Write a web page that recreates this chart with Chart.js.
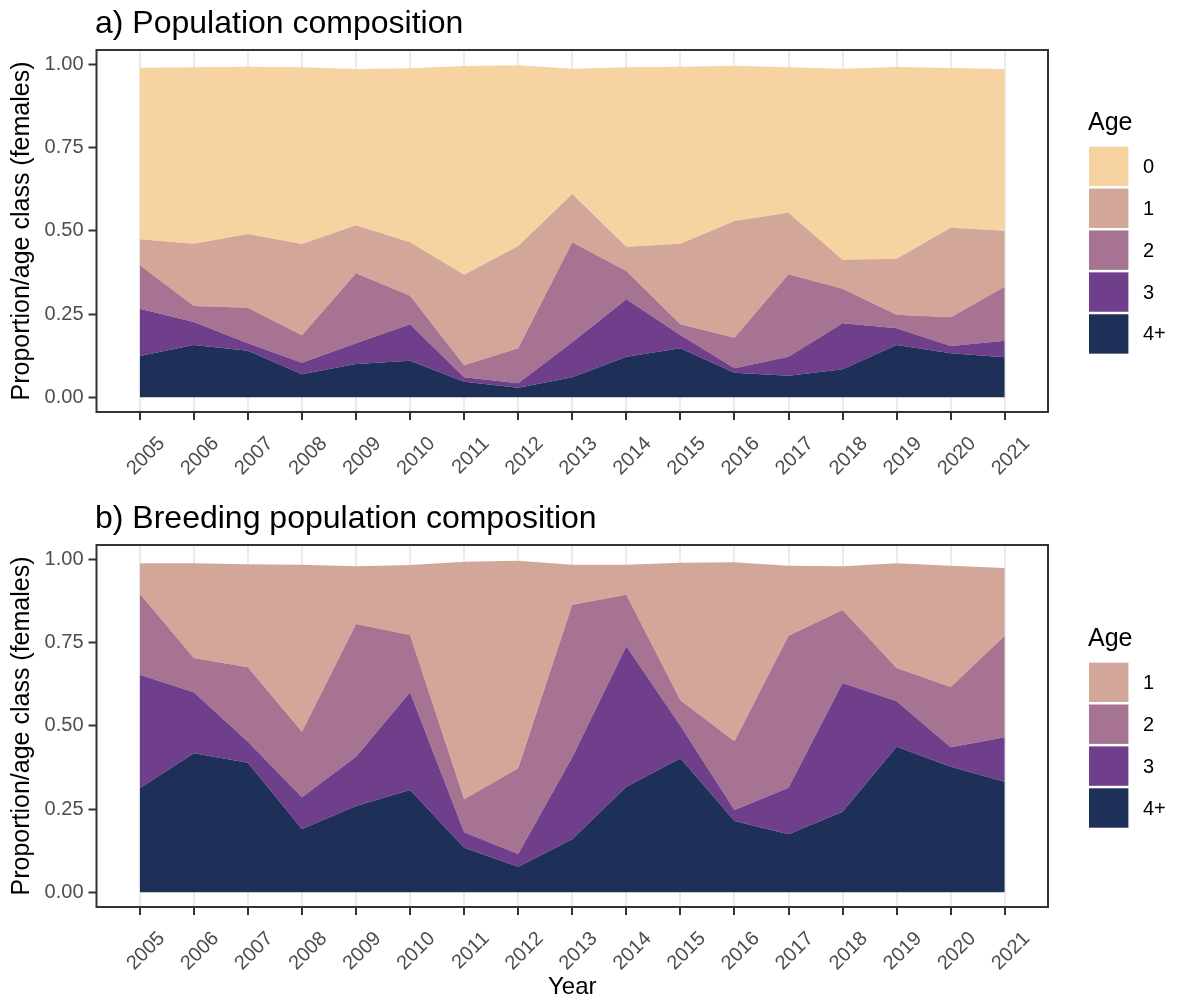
<!DOCTYPE html>
<html>
<head>
<meta charset="utf-8">
<script src="https://cdn.jsdelivr.net/npm/chart.js@4/dist/chart.umd.min.js"></script>
<style>
  html, body { margin: 0; padding: 0; background: #ffffff; }
  #wrap { position: relative; width: 1179px; height: 1005px; }
  .panel { position: absolute; left: 0; width: 1179px; }
  canvas { display: block; }
</style>
</head>
<body>
<div id="wrap">
  <div class="panel" style="top:0;height:495px"><canvas id="popChart" width="1179" height="495"></canvas></div>
  <div class="panel" style="top:495px;height:510px"><canvas id="breedChart" width="1179" height="510"></canvas></div>
</div>
<script>
// Survey years and axis ticks
const years = [2005, 2006, 2007, 2008, 2009, 2010, 2011, 2012, 2013, 2014, 2015, 2016, 2017, 2018, 2019, 2020, 2021];
const yTicks = [0, 0.25, 0.5, 0.75, 1];

// a) Whole female population: proportion in each age class
const popAge4plus = [0.124, 0.157, 0.140, 0.069, 0.100, 0.110, 0.047, 0.029, 0.060, 0.122, 0.147, 0.074, 0.065, 0.084, 0.157, 0.132, 0.120];
const popAge3     = [0.142, 0.069, 0.022, 0.035, 0.062, 0.109, 0.013, 0.013, 0.105, 0.172, 0.040, 0.013, 0.057, 0.138, 0.050, 0.022, 0.050];
const popAge2     = [0.131, 0.048, 0.107, 0.082, 0.210, 0.086, 0.036, 0.105, 0.300, 0.085, 0.032, 0.092, 0.247, 0.104, 0.041, 0.086, 0.162];
const popAge1     = [0.077, 0.187, 0.221, 0.274, 0.144, 0.160, 0.272, 0.307, 0.145, 0.073, 0.242, 0.350, 0.185, 0.087, 0.168, 0.269, 0.168];
const popAge0     = [0.515, 0.529, 0.502, 0.530, 0.469, 0.522, 0.626, 0.542, 0.376, 0.538, 0.531, 0.466, 0.436, 0.573, 0.575, 0.479, 0.485];

// b) Breeding females: proportion in each age class
const brdAge4plus = [0.312, 0.417, 0.389, 0.190, 0.259, 0.307, 0.134, 0.077, 0.159, 0.317, 0.402, 0.214, 0.174, 0.242, 0.437, 0.377, 0.332];
const brdAge3     = [0.341, 0.183, 0.063, 0.095, 0.148, 0.293, 0.046, 0.038, 0.246, 0.421, 0.098, 0.033, 0.140, 0.386, 0.136, 0.058, 0.133];
const brdAge2     = [0.243, 0.103, 0.223, 0.197, 0.398, 0.172, 0.099, 0.257, 0.458, 0.155, 0.076, 0.206, 0.456, 0.219, 0.100, 0.181, 0.305];
const brdAge1     = [0.091, 0.284, 0.309, 0.501, 0.173, 0.210, 0.713, 0.623, 0.120, 0.090, 0.413, 0.537, 0.210, 0.131, 0.314, 0.364, 0.203];

// Age-class palette
const ageColors = { '0': '#F7D3A1', '1': '#D2A79A', '2': '#A67492', '3': '#703F8B', '4+': '#1F3058' };

const FONT = "'Liberation Sans', Arial, Helvetica, sans-serif";
const AREA = { left: 96.5, right: 1048, top: 50, bottom: 412 };

// Full panel border drawn over the filled areas
const panelFrame = {
  id: 'panelFrame',
  afterDatasetsDraw(chart) {
    const { ctx, chartArea: a } = chart;
    ctx.save();
    ctx.strokeStyle = '#333333';
    ctx.lineWidth = 2;
    ctx.strokeRect(a.left, a.top, a.right - a.left, a.bottom - a.top);
    ctx.restore();
  }
};

// Panel heading above the plot, left aligned with the frame
const panelHeading = {
  id: 'panelHeading',
  afterDraw(chart, args, opts) {
    const { ctx } = chart;
    ctx.save();
    ctx.font = '32px ' + FONT;
    ctx.fillStyle = '#000000';
    ctx.textAlign = 'left';
    ctx.textBaseline = 'alphabetic';
    ctx.fillText(opts.text, 95, 33);
    ctx.restore();
  }
};

// Vertical key with square swatches, oldest class at the bottom
const ageKey = {
  id: 'ageKey',
  afterDraw(chart) {
    const { ctx, chartArea: a } = chart;
    const items = chart.data.datasets.slice().reverse();
    const pitch = 41.9, box = 39.4, capH = 19, gap = 16.7;
    const totalH = capH + gap + items.length * pitch - (pitch - box);
    const top = (a.top + a.bottom) / 2 + 1.3 - totalH / 2;
    const base = top + capH;
    ctx.save();
    ctx.font = '25px ' + FONT;
    ctx.fillStyle = '#000000';
    ctx.textAlign = 'left';
    ctx.textBaseline = 'alphabetic';
    ctx.fillText('Age', 1088, base);
    ctx.font = '20px ' + FONT;
    ctx.textBaseline = 'middle';
    items.forEach((ds, i) => {
      const y = base + gap + i * pitch;
      ctx.fillStyle = ds.backgroundColor;
      ctx.fillRect(1089, y, box, box);
      ctx.fillStyle = '#000000';
      ctx.fillText(ds.label, 1143, y + box / 2 + 1);
    });
    ctx.restore();
  }
};

function makeChart(canvasId, canvasH, heading, series, showYear) {
  const datasets = series.map((s, idx) => ({
    label: s.label,
    data: years.map((yr, i) => ({ x: yr, y: s.values[i] })),
    backgroundColor: ageColors[s.label],
    borderColor: ageColors[s.label],
    borderWidth: 0,
    pointRadius: 0,
    pointHoverRadius: 0,
    tension: 0,
    fill: idx === 0 ? 'origin' : '-1'
  }));

  return new Chart(document.getElementById(canvasId), {
    type: 'line',
    data: { datasets },
    plugins: [panelFrame, panelHeading, ageKey],
    options: {
      responsive: false,
      animation: false,
      events: [],
      layout: { padding: { left: 0, right: 1179 - AREA.right, top: AREA.top, bottom: 0 } },
      plugins: {
        legend: { display: false },
        tooltip: { enabled: false },
        panelHeading: { text: heading }
      },
      scales: {
        x: {
          type: 'linear',
          min: 2004.2,
          max: 2021.8,
          afterBuildTicks: sc => { sc.ticks = years.map(v => ({ value: v })); },
          afterFit: sc => { sc.height = canvasH - AREA.bottom; },
          grid: { color: '#EBEBEB', lineWidth: 2, drawTicks: true, tickColor: '#333333', tickWidth: 2, tickLength: 8 },
          border: { display: false },
          ticks: {
            autoSkip: false, maxRotation: 45, minRotation: 45,
            color: '#4D4D4D', font: { family: FONT, size: 20 },
            padding: 12, labelOffset: 22,
            callback: v => String(v)
          },
          title: { display: showYear, text: 'Year', color: '#000000', font: { family: FONT, size: 24 }, padding: { top: 0, bottom: 3 } }
        },
        y: {
          stacked: true,
          min: -0.044,
          max: 1.042,
          afterBuildTicks: sc => { sc.ticks = yTicks.map(v => ({ value: v })); },
          afterFit: sc => { sc.width = AREA.left; },
          grid: { drawOnChartArea: false, drawTicks: true, tickColor: '#333333', tickWidth: 2, tickLength: 8 },
          border: { display: false },
          ticks: { color: '#4D4D4D', font: { family: FONT, size: 20 }, padding: 5, callback: v => v.toFixed(2) },
          title: { display: true, text: 'Proportion/age class (females)', color: '#000000', font: { family: FONT, size: 25 }, padding: { top: 7, bottom: 0 } }
        }
      }
    }
  });
}

makeChart('popChart', 495, 'a) Population composition', [
  { label: '4+', values: popAge4plus },
  { label: '3', values: popAge3 },
  { label: '2', values: popAge2 },
  { label: '1', values: popAge1 },
  { label: '0', values: popAge0 }
], false);

makeChart('breedChart', 510, 'b) Breeding population composition', [
  { label: '4+', values: brdAge4plus },
  { label: '3', values: brdAge3 },
  { label: '2', values: brdAge2 },
  { label: '1', values: brdAge1 }
], true);
</script>
</body>
</html>
